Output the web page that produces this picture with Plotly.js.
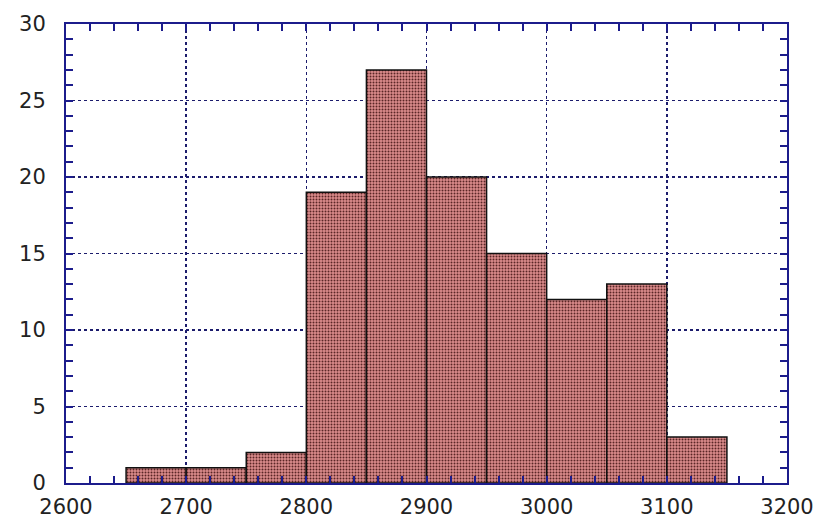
<!DOCTYPE html>
<html>
<head>
<meta charset="utf-8">
<script src="https://cdn.plot.ly/plotly-3.0.1.min.js"></script>
<style>html,body{margin:0;padding:0;background:#fff;}#chart{width:825px;height:526px;}</style>
</head>
<body>
<div id="chart"></div>
<script>
// Histogram bins (centres) and counts
const binCenters = [2675, 2725, 2775, 2825, 2875, 2925, 2975, 3025, 3075, 3125];
const counts = [1, 1, 2, 19, 27, 20, 15, 12, 13, 3];
const binWidth = 50;
const xTickVals = [2600, 2700, 2800, 2900, 3000, 3100, 3200];
const yTickVals = [0, 5, 10, 15, 20, 25, 30];

const axisColor = '#1c1c8c';
const gridColor = '#1c1c6c';

const trace = {
  type: 'bar',
  x: binCenters,
  y: counts,
  width: binCenters.map(() => binWidth),
  marker: {
    color: '#b86e6e',
    line: {color: '#111', width: 1.5},
    pattern: {shape: '.', fgcolor: '#5a2626', bgcolor: '#dc8c8c', size: 3, solidity: 0.35}
  },
  hoverinfo: 'x+y'
};

const commonAxis = {
  showline: true,
  linecolor: axisColor,
  linewidth: 2,
  mirror: 'allticks',
  ticks: 'inside',
  ticklen: 7,
  tickwidth: 2,
  tickcolor: axisColor,
  showgrid: true,
  gridcolor: gridColor,
  gridwidth: 1.5,
  griddash: 'dot',
  zeroline: false,
  tickfont: {family: 'DejaVu Sans, sans-serif', size: 21, color: '#222'}
};

const layout = {
  width: 825,
  height: 526,
  margin: {l: 66, r: 38, t: 24, b: 43},
  paper_bgcolor: '#fff',
  plot_bgcolor: '#fff',
  showlegend: false,
  bargap: 0,
  xaxis: Object.assign({}, commonAxis, {
    range: [2600, 3200],
    tickvals: xTickVals,
    ticktext: xTickVals.map(String),
    ticklabelstandoff: 4,
    minor: {dtick: 20, ticks: 'inside', ticklen: 7, tickwidth: 2, tickcolor: axisColor, showgrid: false}
  }),
  yaxis: Object.assign({}, commonAxis, {
    range: [0, 30],
    tickvals: yTickVals,
    ticktext: yTickVals.map(String),
    ticklabelstandoff: 14,
    minor: {dtick: 1, ticks: 'inside', ticklen: 7, tickwidth: 2, tickcolor: axisColor, showgrid: false}
  })
};

Plotly.newPlot('chart', [trace], layout, {displayModeBar: false, staticPlot: true});
</script>
</body>
</html>
